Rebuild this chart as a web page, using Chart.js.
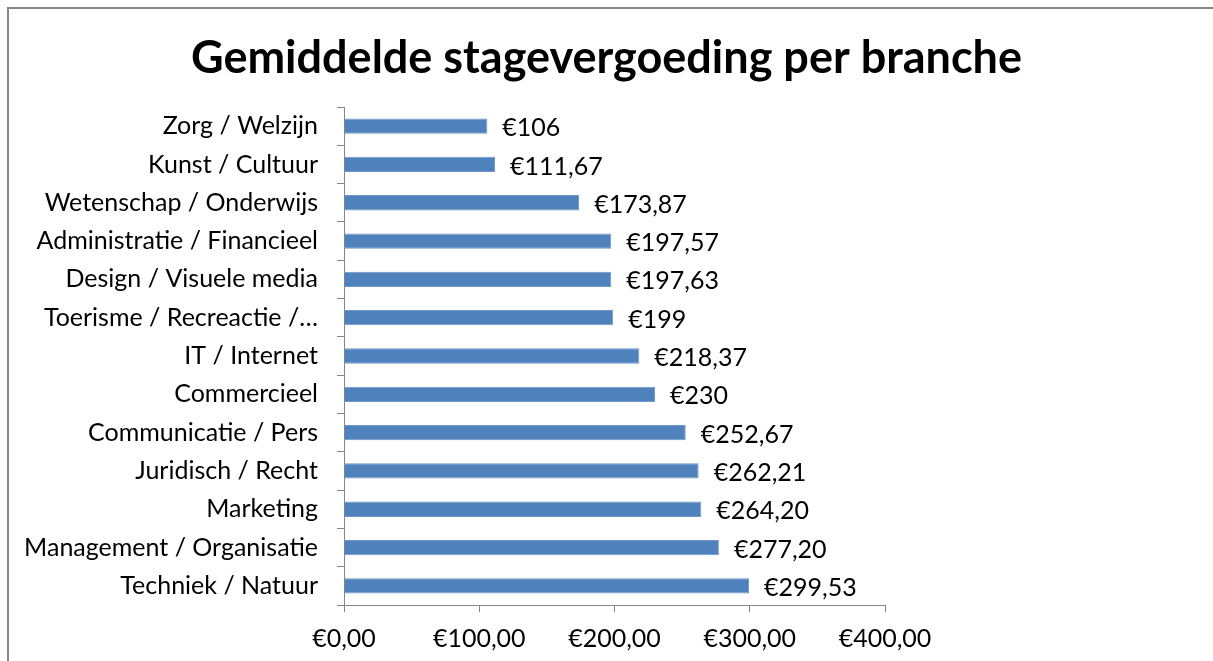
<!DOCTYPE html>
<html>
<head>
<meta charset="utf-8">
<script src="https://cdn.jsdelivr.net/npm/chart.js@4"></script>
<style>
  html, body { margin: 0; padding: 0; background: #fff; overflow: hidden; }
  #frame { position: absolute; left: 7px; top: 7px; width: 1300px; height: 700px; border: 2px solid #868686; box-sizing: border-box; }
  #wrap { position: absolute; left: 0; top: 0; width: 1213px; height: 661px; }
</style>
</head>
<body>
<div id="frame"></div>
<div id="wrap"><canvas id="chart" width="1213" height="661"></canvas></div>
<script>
const categories = [
    'Zorg / Welzijn',
    'Kunst / Cultuur',
    'Wetenschap / Onderwijs',
    'Administratie / Financieel',
    'Design / Visuele media',
    'Toerisme / Recreactie /…',
    'IT / Internet',
    'Commercieel',
    'Communicatie / Pers',
    'Juridisch / Recht',
    'Marketing',
    'Management / Organisatie',
    'Techniek / Natuur'
];
const values = [106, 111.67, 173.87, 197.57, 197.63, 199, 218.37, 230, 252.67, 262.21, 264.20, 277.20, 299.53];
const valueLabels = ['€106', '€111,67', '€173,87', '€197,57', '€197,63', '€199', '€218,37', '€230', '€252,67', '€262,21', '€264,20', '€277,20', '€299,53'];

const FONT = 'Lato, "Open Sans", sans-serif';

// draws the value next to the end of each bar
const barLabels = {
    id: 'barLabels',
    afterDatasetsDraw(chart) {
        const ctx = chart.ctx;
        const meta = chart.getDatasetMeta(0);
        ctx.save();
        ctx.font = '25px ' + FONT;
        ctx.fillStyle = '#000';
        ctx.textAlign = 'left';
        ctx.textBaseline = 'middle';
        meta.data.forEach((bar, i) => {
            ctx.fillText(valueLabels[i], bar.x + 15, bar.y + 2);
        });
        ctx.restore();
    }
};

new Chart(document.getElementById('chart'), {
    type: 'bar',
    data: {
        labels: categories,
        datasets: [{
            data: values,
            backgroundColor: '#4f81bd',
            borderColor: '#6f97c8',
            borderWidth: 1,
            barPercentage: 0.4,
            categoryPercentage: 1
        }]
    },
    options: {
        indexAxis: 'y',
        responsive: false,
        animation: false,
        layout: { padding: 0 },
        plugins: {
            legend: { display: false },
            tooltip: { enabled: false },
            title: {
                display: true,
                text: 'Gemiddelde stagevergoeding per branche',
                color: '#000',
                font: { family: FONT, size: 45, weight: 'bold' },
                padding: { top: 31, bottom: 22 }
            }
        },
        scales: {
            x: {
                min: 0,
                max: 400,
                ticks: {
                    stepSize: 100,
                    color: '#000',
                    font: { family: FONT, size: 25 },
                    padding: 12,
                    maxRotation: 0,
                    callback: v => '€' + v.toFixed(2).replace('.', ',')
                },
                grid: { drawOnChartArea: false, drawTicks: true, tickLength: 7, color: '#868686' },
                border: { color: '#868686', width: 1 },
                afterFit: s => { s.height = 56; }
            },
            y: {
                ticks: { color: '#000', font: { family: FONT, size: 25 }, padding: 19 },
                grid: { drawOnChartArea: false, drawTicks: true, tickLength: 7, color: '#868686', offset: true },
                border: { color: '#868686', width: 1 },
                afterFit: s => { s.width = 344; }
            },
            // empty spacer on the right so the title still centres on the whole canvas
            spacer: {
                type: 'category',
                axis: 'y',
                position: 'right',
                grid: { display: false },
                border: { display: false },
                ticks: { display: false },
                afterFit: s => { s.width = 328; }
            }
        }
    },
    plugins: [barLabels]
});
</script>
</body>
</html>
